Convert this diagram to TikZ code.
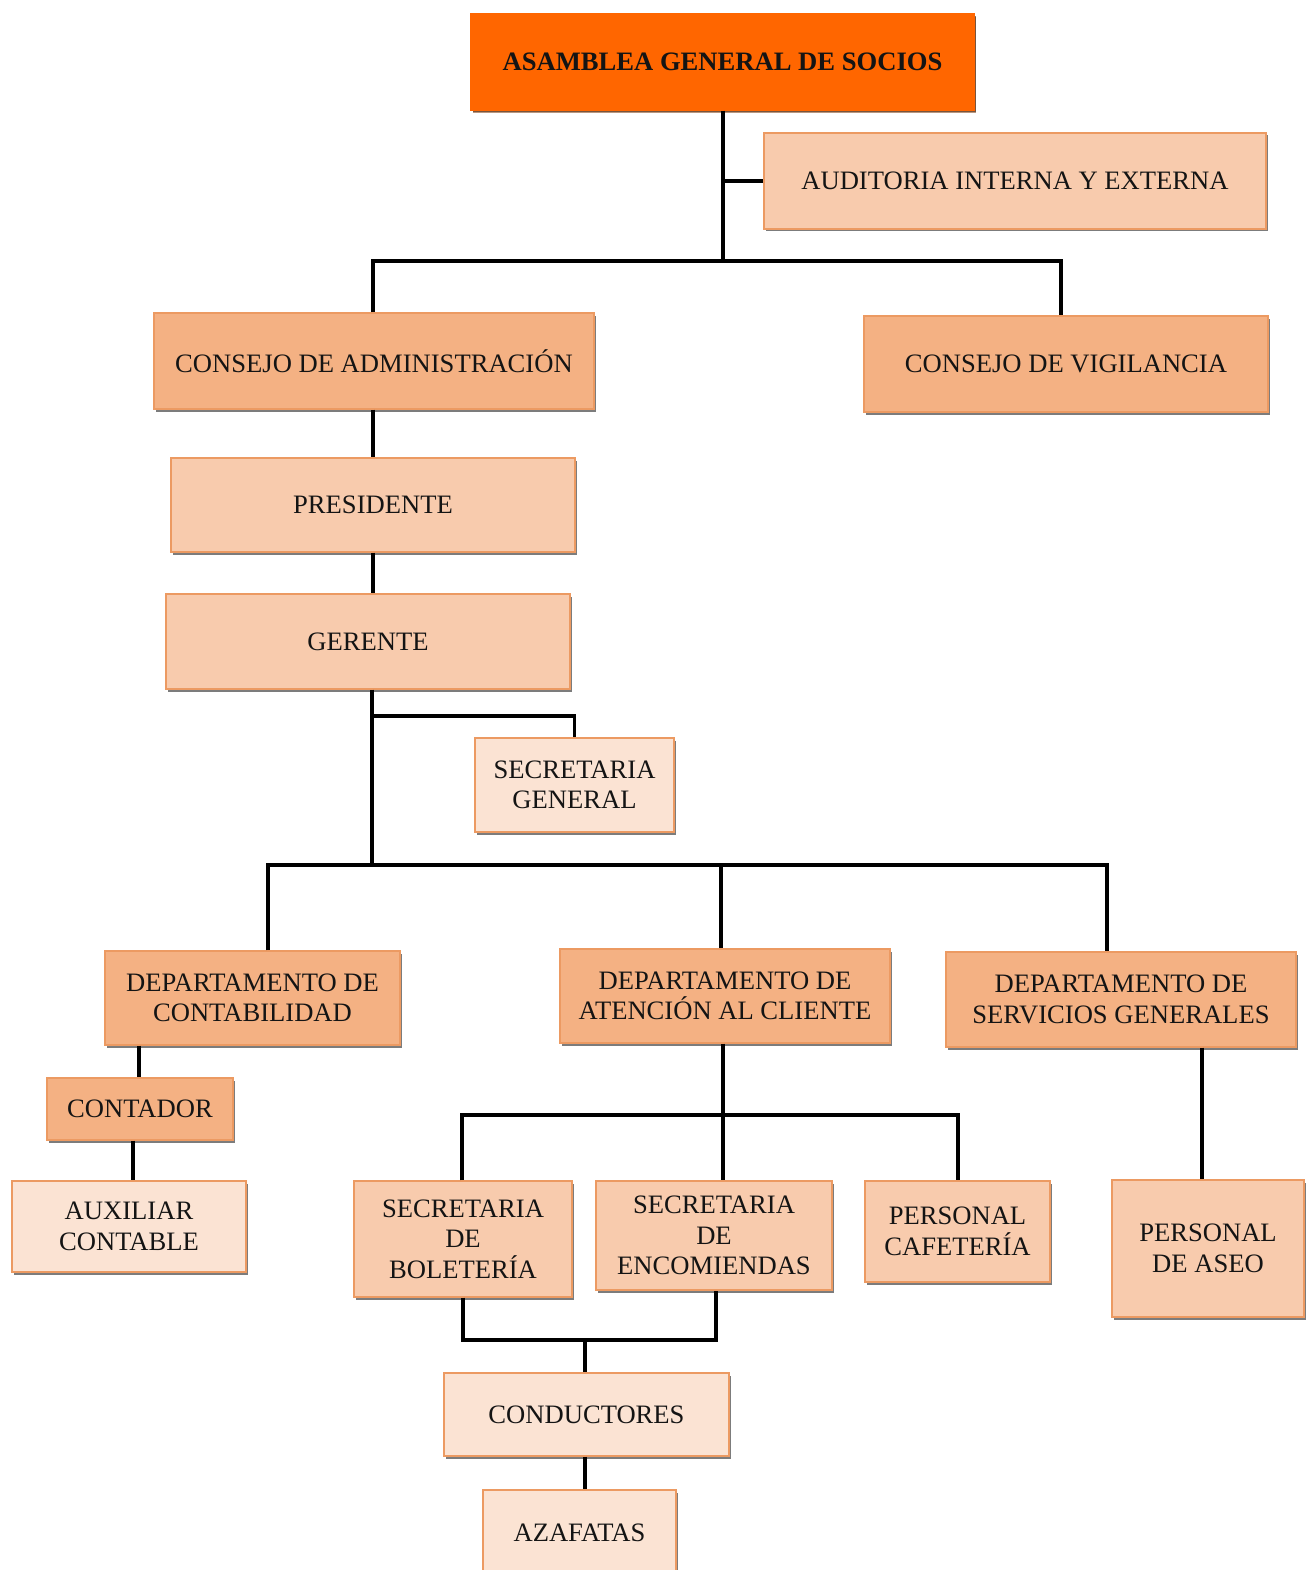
\documentclass[tikz,border=0pt]{standalone}
\usepackage{fontspec}
\setmainfont{Liberation Serif}
\usetikzlibrary{shadows}
\definecolor{cTop}{HTML}{FF6600}
\definecolor{cMed}{HTML}{F4B183}
\definecolor{cLight}{HTML}{F8CBAD}
\definecolor{cPale}{HTML}{FBE3D3}
\definecolor{cEdge}{HTML}{EC9A62}
\tikzset{
  box/.style={draw=cEdge, line width=1.2pt, align=center, inner sep=0pt,
    font=\fontsize{26.6}{30.5}\selectfont, text=black!92,
    drop shadow={shadow xshift=1.5pt, shadow yshift=-2.5pt, fill=black!60, opacity=0.85}},
  topbox/.style={box, draw=cTop,
    drop shadow={shadow xshift=2pt, shadow yshift=-3pt, fill=cTop!45!black}},
  ln/.style={line width=3.3pt, black},
}
\newcommand{\bx}[8][box]{\node[#1, fill=#7, minimum width={(#5-#3)*1pt}, minimum height={(#6-#4)*1pt}] (#2) at ({(#3+#5)/2},{(#4+#6)/2}) {#8};}
\begin{document}
\begin{tikzpicture}[x=1pt,y=-1pt]
\fill[white] (0,0) rectangle (1306,1570);
\useasboundingbox (0,0) rectangle (1306,1570);
\bx[topbox]{asm}{471}{14}{974}{110}{cTop}{\textbf{ASAMBLEA GENERAL DE SOCIOS}}
\bx{aud}{764}{133}{1266}{229}{cLight}{AUDITORIA INTERNA Y EXTERNA}
\bx{ca}{154}{313}{594}{409}{cMed}{CONSEJO DE ADMINISTRACIÓN}
\bx{cv}{864}{316}{1268}{412}{cMed}{CONSEJO DE VIGILANCIA}
\bx{pres}{171}{458}{575}{552}{cLight}{PRESIDENTE}
\bx{ger}{166}{594}{570}{689}{cLight}{GERENTE}
\bx{sg}{475}{738}{674}{832}{cPale}{SECRETARIA\\GENERAL}
\bx{dc}{105}{951}{400}{1045}{cMed}{DEPARTAMENTO DE\\CONTABILIDAD}
\bx{dac}{560}{949}{890}{1043}{cMed}{DEPARTAMENTO DE\\ATENCIÓN AL CLIENTE}
\bx{dsg}{946}{952}{1296}{1047}{cMed}{DEPARTAMENTO DE\\SERVICIOS GENERALES}
\bx{cont}{47}{1078}{233}{1140}{cMed}{CONTADOR}
\bx{aux}{12}{1181}{246}{1272}{cPale}{AUXILIAR\\CONTABLE}
\bx{bol}{354}{1181}{572}{1297}{cLight}{SECRETARIA\\DE\\BOLETERÍA}
\bx{enc}{596}{1181}{832}{1290}{cLight}{SECRETARIA\\DE\\ENCOMIENDAS}
\bx{caf}{865}{1181}{1050}{1282}{cLight}{PERSONAL\\CAFETERÍA}
\bx{aseo}{1112}{1180}{1304}{1317}{cLight}{PERSONAL\\DE ASEO}
\bx{cond}{444}{1373}{729}{1456}{cPale}{CONDUCTORES}
\bx{aza}{483}{1490}{676}{1576}{cPale}{AZAFATAS}
% connectors
\coordinate (j1) at (723,261);
\coordinate (ja) at (723,181);
\coordinate (jca) at (373,261);
\coordinate (jcv) at (1061,261);
\draw[ln] (asm.south -| j1) -- (j1);
\draw[ln] (ja) -- (aud.west |- ja);
\draw[ln] (ca.north -| jca) -- (jca) -- (jcv) -- (cv.north -| jcv);
\draw[ln] (ca.south -| jca) -- (pres.north -| jca);
\draw[ln] (pres.south -| jca) -- (ger.north -| jca);
\coordinate (jg) at (372,865);
\coordinate (jsg) at (372,716);
\draw[ln] (ger.south -| jg) -- (jg);
\draw[ln] (jsg) -| (sg.north);
\coordinate (jdl) at (268,865);
\coordinate (jdm) at (721,865);
\coordinate (jdr) at (1107,865);
\draw[ln] (dc.north -| jdl) -- (jdl) -- (jdr) -- (dsg.north -| jdr);
\draw[ln] (jdm) -- (dac.north -| jdm);
\coordinate (jc1) at (139,0);
\coordinate (jc2) at (133,0);
\draw[ln] (dc.south -| jc1) -- (cont.north -| jc1);
\draw[ln] (cont.south -| jc2) -- (aux.north -| jc2);
\coordinate (ja1) at (723,1115);
\coordinate (ja0) at (462,1115);
\coordinate (ja2) at (958,1115);
\draw[ln] (dac.south -| ja1) -- (ja1);
\draw[ln] (bol.north -| ja0) -- (ja0) -- (ja2) -- (caf.north -| ja2);
\draw[ln] (ja1) -- (enc.north -| ja1);
\coordinate (js) at (1202,0);
\draw[ln] (dsg.south -| js) -- (aseo.north -| js);
\coordinate (jb1) at (463,1340);
\coordinate (jb2) at (716,1340);
\coordinate (jb3) at (585,1340);
\draw[ln] (bol.south -| jb1) -- (jb1) -- (jb2) -- (enc.south -| jb2);
\draw[ln] (jb3) -- (cond.north -| jb3);
\draw[ln] (cond.south -| jb3) -- (aza.north -| jb3);
\end{tikzpicture}
\end{document}
